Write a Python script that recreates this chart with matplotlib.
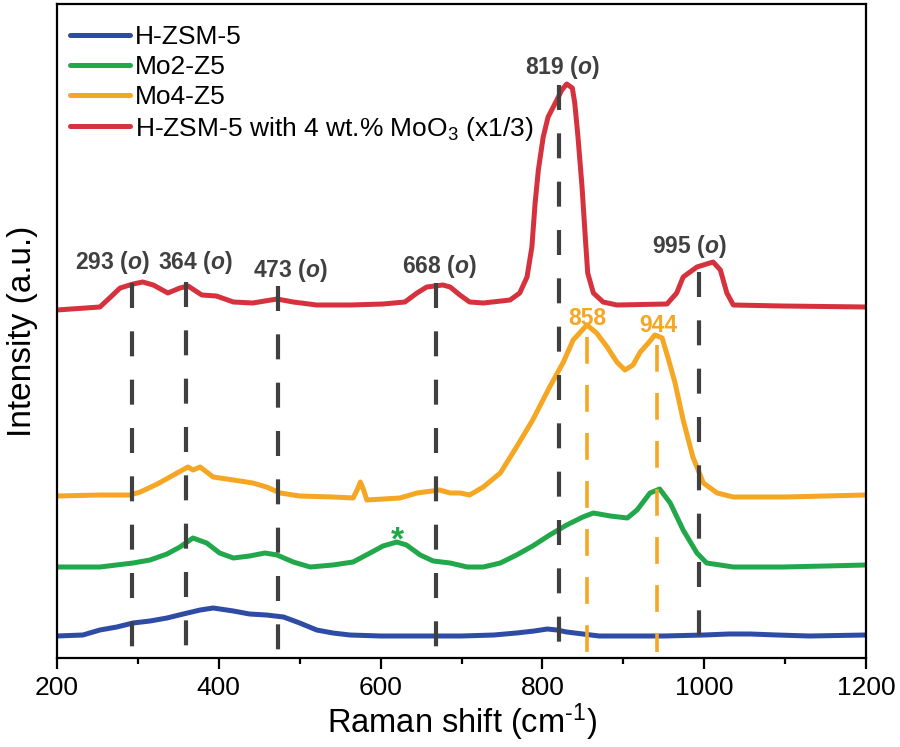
import matplotlib
matplotlib.use("Agg")
import matplotlib.pyplot as plt
from matplotlib.ticker import MultipleLocator

plt.rcParams['font.family'] = ['Liberation Sans', 'DejaVu Sans']
plt.rcParams['mathtext.fontset'] = 'custom'
plt.rcParams['mathtext.rm'] = 'Liberation Sans'
plt.rcParams['mathtext.it'] = 'Liberation Sans:italic'
plt.rcParams['mathtext.bf'] = 'Liberation Sans:bold'
plt.rcParams['mathtext.bfit'] = 'Liberation Sans:italic:bold'

# ---- data (Raman shift in cm-1, stacked intensity in arbitrary units) ----
hzsm_x = [200, 232, 253, 274, 294, 315, 336, 356, 377, 393, 418, 438, 459, 480, 500, 521, 541, 562,
          600, 650, 700, 740, 768, 790, 806, 818, 830, 850, 870, 950, 1000, 1030, 1057, 1090, 1130, 1200]
hzsm_y = [22, 23, 28, 31, 35, 37, 40, 44, 48, 50, 47, 44, 43, 41, 35, 28, 25, 23,
          22, 22, 22, 23, 25, 27, 29, 28, 26, 24, 22, 22, 23, 24, 24, 23, 22, 23]

mo2_x = [201, 253, 294, 315, 336, 352, 368, 385, 401, 418, 438, 457, 472, 492, 513, 541, 566, 587, 603,
         620, 632, 649, 665, 686, 707, 727, 748, 768, 788, 809, 830, 850, 863, 884, 905, 917, 933, 945,
         958, 974, 991, 1003, 1036, 1097, 1150, 1200]
mo2_y = [91, 91, 95, 98, 104, 111, 120, 115, 105, 100, 102, 105, 103, 96, 91, 93, 96, 105, 112,
         116, 113, 103, 97, 95, 91, 91, 95, 103, 112, 123, 133, 141, 145, 142, 140, 148, 165, 169,
         155, 128, 105, 95, 91, 91, 92, 93]

mo4_x = [201, 253, 290, 303, 324, 344, 362, 368, 377, 393, 418, 442, 459, 476, 500, 541, 566, 571, 575,
         579, 583, 624, 645, 673, 686, 698, 710, 727, 748, 768, 788, 809, 826, 838, 846, 855, 867, 880,
         892, 902, 912, 921, 931, 939, 948, 955, 964, 974, 986, 999, 1016, 1036, 1100, 1150, 1200]
mo4_y = [162, 163, 163, 166, 174, 183, 191, 188, 191, 181, 178, 175, 171, 165, 162, 161, 160, 168, 176,
         168, 158, 160, 165, 168, 165, 165, 163, 171, 185, 211, 238, 271, 296, 318, 325, 333, 325, 311,
         296, 288, 293, 306, 315, 323, 320, 301, 275, 238, 201, 175, 165, 161, 161, 162, 163]

moo3_x = [200, 253, 265, 278, 294, 306, 319, 337, 352, 362, 379, 397, 418, 442, 472, 492, 521, 562, 603,
          630, 645, 657, 677, 686, 698, 710, 727, 760, 772, 781, 787, 791, 795, 801, 807, 816, 824, 830,
          837, 840, 844, 849, 853, 856, 863, 875, 892, 954, 966, 974, 991, 1011, 1020, 1028, 1036, 1097,
          1200]
moo3_y = [348, 351, 360, 370, 374, 376, 373, 365, 370, 372, 363, 362, 356, 355, 359, 356, 353, 353, 354,
          356, 365, 371, 373, 371, 363, 356, 355, 358, 365, 381, 411, 455, 488, 521, 541, 555, 568, 574,
          570, 555, 521, 471, 421, 385, 365, 356, 353, 354, 365, 381, 391, 396, 388, 365, 353, 352,
          351]

series_labels = ['H-ZSM-5', 'Mo2-Z5', 'Mo4-Z5', 'H-ZSM-5 with 4 wt.% MoO$_3$ (x1/3)']
series_colors = ['#2E4BA5', '#22A84B', '#F5A623', '#D6323E']

# MoO3 reference bands (line position, label text, line top, line bottom, label x, label baseline)
moo3_line_x = [293, 360, 473, 668, 821, 994]
moo3_line_top = [375, 376, 372, 375, 573, 386]
moo3_line_bot = [11, 11, 6, 10, 13, 21]
moo3_label = ['293', '364', '473', '668', '819', '995']
moo3_label_x = [268, 371, 488, 673, 825, 982]
moo3_label_y = [389, 389, 381, 385, 584, 405]

# Mo4-Z5 bands
mo4_line_x = [855, 942]
mo4_line_top = [321, 313]
mo4_line_bot = [5, 6]
mo4_label = ['858', '944']
mo4_label_x = [855, 943]
mo4_label_y = [333, 326]

fig = plt.figure(figsize=(9.0, 7.47), dpi=100)
ax = fig.add_axes([57 / 900, 1 - 658 / 747, (866 - 57) / 900, (658 - 4) / 747])

for xs, ys, lab, col in zip([hzsm_x, mo2_x, mo4_x, moo3_x], [hzsm_y, mo2_y, mo4_y, moo3_y],
                            series_labels, series_colors):
    ax.plot(xs, ys, color=col, lw=3.6, label=lab, solid_capstyle='round', solid_joinstyle='round', zorder=2)

gray = '#404040'
for x, t, b in zip(moo3_line_x, moo3_line_top, moo3_line_bot):
    ax.plot([x, x], [t, b], color=gray, lw=3.0, linestyle=(0, (6.0, 5.6)), zorder=3)
for x, t, b in zip(mo4_line_x, mo4_line_top, mo4_line_bot):
    ax.plot([x, x], [t, b], color=series_colors[2], lw=2.6, linestyle=(0, (7.4, 5.9)), zorder=3)

for lab, x, y in zip(moo3_label, moo3_label_x, moo3_label_y):
    ax.text(x, y, lab + r' ($\mathbfit{o}$)', ha='center', va='baseline', fontsize=16.5,
            fontweight='bold', color=gray, zorder=4)
for lab, x, y in zip(mo4_label, mo4_label_x, mo4_label_y):
    ax.text(x, y, lab, ha='center', va='baseline', fontsize=16.5, fontweight='bold',
            color=series_colors[2], zorder=4)
ax.text(621, 108, '*', ha='center', va='baseline', fontsize=24, fontweight='bold',
        color=series_colors[1], zorder=4)

ax.set_xlim(200, 1200)
ax.set_ylim(0, 654)
ax.xaxis.set_major_locator(MultipleLocator(200))
ax.xaxis.set_minor_locator(MultipleLocator(100))
ax.set_yticks([])
ax.tick_params(axis='x', which='major', direction='out', length=8, width=1.6, labelsize=19, pad=5,
               top=False)
ax.tick_params(axis='x', which='minor', direction='out', length=4, width=1.6, top=False)
for s in ax.spines.values():
    s.set_linewidth(1.6)

ax.set_xlabel(r'Raman shift (cm$^{\text{-1}}$)', fontsize=23.5, labelpad=1)
ax.set_ylabel('Intensity (a.u.)', fontsize=24, labelpad=14)

leg = ax.legend(loc='upper left', bbox_to_anchor=(0.0, 1 - 8 / 654), frameon=False, fontsize=19,
                handlelength=2.25, handletextpad=0.2, labelspacing=0.22, borderaxespad=0.2,
                borderpad=0.3)

fig.savefig('out.png', dpi=100)
